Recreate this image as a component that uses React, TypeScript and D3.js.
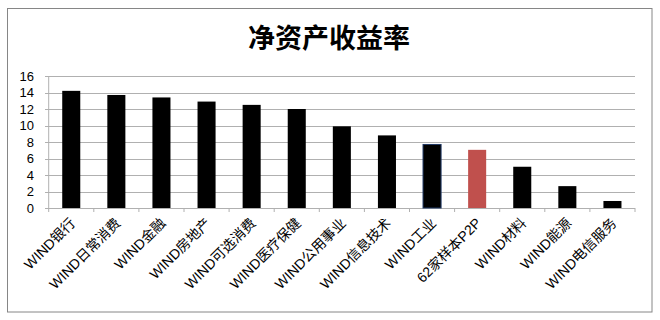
import React from "react";
import * as d3 from "d3";

const categories = [
  "WIND银行",
  "WIND日常消费",
  "WIND金融",
  "WIND房地产",
  "WIND可选消费",
  "WIND医疗保健",
  "WIND公用事业",
  "WIND信息技术",
  "WIND工业",
  "62家样本P2P",
  "WIND材料",
  "WIND能源",
  "WIND电信服务",
];
const values = [14.2, 13.7, 13.4, 12.9, 12.5, 12.0, 9.9, 8.8, 7.7, 7.05, 5.0, 2.65, 0.85];
const yTicks = [0, 2, 4, 6, 8, 10, 12, 14, 16];
const title = "净资产收益率";
const highlight = "62家样本P2P";

const W = 660;
const H = 320;
const left = 48.7;
const right = 635;
const top = 76;
const bottom = 208;

export default function App() {
  const x = d3.scaleBand<string>().domain(categories).range([left, right]).paddingInner(0.6).paddingOuter(0.3);
  const y = d3.scaleLinear().domain([0, 16]).range([bottom, top]);
  const step = (right - left) / categories.length;
  const font = "'Liberation Sans', 'Noto Sans CJK SC', sans-serif";
  const tickPositions = d3.range(categories.length + 1).map((i) => left + i * step);

  return (
    <svg width={W} height={H} style={{ position: "absolute", left: 0, top: 0, background: "#fff" }} fontFamily={font}>
      <rect x={0} y={0} width={W} height={H} fill="#fff" />
      <rect x={7.5} y={8.5} width={644.5} height={303.5} fill="#fff" stroke="#868686" strokeWidth={1} />
      <text x={329} y={48} textAnchor="middle" fontSize={27} fontWeight="bold" fill="#000" fontFamily="'Noto Sans CJK SC', sans-serif">
        {title}
      </text>
      {yTicks.map((t) => (
        <g key={t}>
          <line x1={45} x2={right} y1={Math.round(y(t)) + 0.5} y2={Math.round(y(t)) + 0.5} stroke="#b0b0b0" strokeWidth={1} />
          <text x={34} y={y(t) + 4.5} textAnchor="end" fontSize={13} fill="#000">
            {t}
          </text>
        </g>
      ))}
      <line x1={left} x2={left} y1={top} y2={bottom} stroke="#b0b0b0" strokeWidth={1} />
      {tickPositions.map((p, i) => (
        <line key={i} x1={p} x2={p} y1={bottom} y2={bottom + 4} stroke="#b0b0b0" strokeWidth={1} />
      ))}
      {categories.map((c, i) => (
        <rect
          key={c}
          x={x(c)}
          y={y(values[i])}
          width={x.bandwidth()}
          height={y(0) - y(values[i])}
          fill={c === highlight ? "#c0504d" : "#000"}
          stroke={c === "WIND工业" ? "#1f3864" : "none"}
          strokeWidth={1}
        />
      ))}
      {categories.map((c) => {
        const cx = (x(c) as number) + x.bandwidth() / 2 + 5;
        const cy = bottom + 16;
        return (
          <text key={c} x={cx} y={cy} textAnchor="end" fontSize={14} fill="#000" transform={`rotate(-45 ${cx} ${cy})`}>
            {c}
          </text>
        );
      })}
    </svg>
  );
}
